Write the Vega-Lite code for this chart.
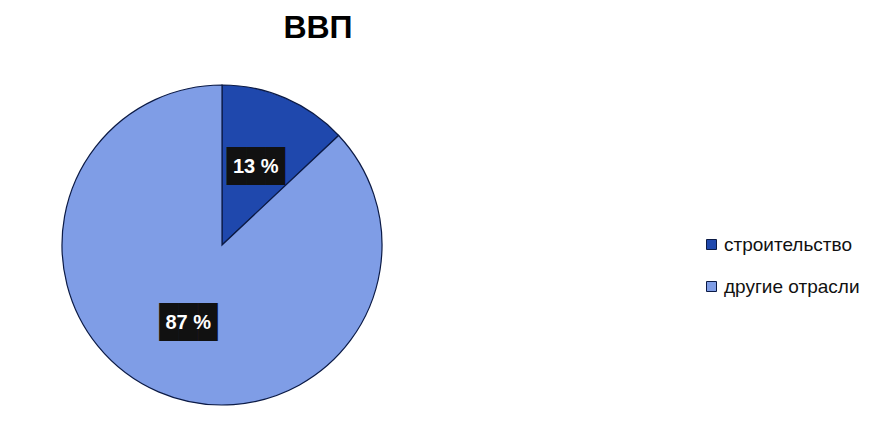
{
  "$schema": "https://vega.github.io/schema/vega-lite/v6.json",
  "width": 444,
  "height": 340,
  "autosize": "none",
  "padding": {"left": 0, "top": 75, "right": 431, "bottom": 17},
  "background": "#ffffff",
  "title": {
    "text": "ВВП",
    "fontSize": 32,
    "fontWeight": "bold",
    "font": "Liberation Sans",
    "color": "#000000",
    "anchor": "middle",
    "dx": 96,
    "offset": 30
  },
  "data": {
    "values": [
      {"sector": "строительство", "value": 13, "label": "13 %", "order": 1},
      {"sector": "другие отрасли", "value": 87, "label": "87 %", "order": 2}
    ]
  },
  "encoding": {
    "theta": {"field": "value", "type": "quantitative", "stack": true},
    "order": {"field": "order", "type": "quantitative"}
  },
  "layer": [
    {
      "mark": {"type": "arc", "radius": 160, "stroke": "#0b1a45", "strokeWidth": 1.2},
      "encoding": {
        "color": {
          "field": "sector",
          "type": "nominal",
          "scale": {"domain": ["строительство", "другие отрасли"], "range": ["#1f48ad", "#7f9de6"]},
          "sort": ["строительство", "другие отрасли"],
          "legend": {
            "title": null,
            "orient": "none",
            "legendX": 702,
            "legendY": 160,
            "symbolType": "square",
            "symbolSize": 100,
            "symbolStrokeColor": "#0b1a45",
            "symbolStrokeWidth": 1,
            "labelFontSize": 19,
            "labelFont": "Liberation Sans",
            "labelColor": "#111111",
            "labelOffset": 3,
            "rowPadding": 22,
            "symbolOpacity": 1
          }
        }
      }
    },
    {
      "mark": {"type": "text", "radius": 85, "text": "███", "font": "DejaVu Sans Mono", "fontSize": 32, "color": "#111111", "align": "center", "baseline": "middle"}
    },
    {
      "mark": {"type": "text", "radius": 85, "font": "Liberation Sans", "fontWeight": "bold", "fontSize": 20, "color": "#ffffff", "align": "center", "baseline": "middle"},
      "encoding": {"text": {"field": "label", "type": "nominal"}}
    }
  ],
  "config": {"view": {"stroke": null}}
}
